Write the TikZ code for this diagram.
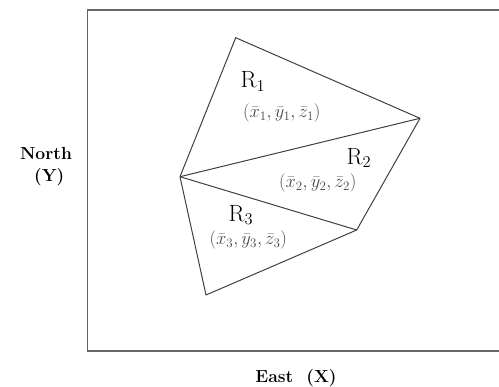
\RequirePackage{fix-cm}
\documentclass[tikz,border=0pt]{standalone}
\usepackage{amsmath, amssymb}
\usepackage{fontspec}
\usetikzlibrary{positioning, calc}

\begin{document}
\begin{tikzpicture}[x=1pt, y=-1pt,
    frame/.style={draw=black!60, line width=1.4pt},
    edge/.style={draw=black!75, line width=1pt, line join=round},
    region/.style={inner sep=0pt, font=\fontsize{23.5}{27}\selectfont},
    centroid/.style={inner sep=0pt, font=\fontsize{18.5}{22}\selectfont, text=black!72},
    axis/.style={inner sep=0pt, align=center, font=\fontsize{17.5}{21}\selectfont\bfseries}
]
    \useasboundingbox (0,0) rectangle (499,387);
    \clip (0,0) rectangle (499,387);

    % outer frame
    \draw[frame] (87.5,10) rectangle (510,351);

    % vertices
    \coordinate (top)    at (235.7,37.7);
    \coordinate (right)  at (420,118.3);
    \coordinate (left)   at (180,176.7);
    \coordinate (lowr)   at (356.7,230);
    \coordinate (bottom) at (206,295);

    \draw[edge] (left) -- (top) -- (right) -- (lowr) -- (bottom) -- cycle;
    \draw[edge] (left) -- (right);
    \draw[edge] (left) -- (lowr);

    % region labels
    \node[region]   (r1) at (253,81.7)  {R$_1$};
    \node[centroid] (c1) at (281.7,113.3) {$(\bar{x}_1,\bar{y}_1,\bar{z}_1)$};
    \node[region]   (r2) at (359,158)   {R$_2$};
    \node[centroid] (c2) at (317.7,183.3) {$(\bar{x}_2,\bar{y}_2,\bar{z}_2)$};
    \node[region]   (r3) at (241,215)   {R$_3$};
    \node[centroid] (c3) at (248.3,240) {$(\bar{x}_3,\bar{y}_3,\bar{z}_3)$};

    % axis names
    \node[axis] (north) at (46,167) {North\\[1pt]\ (Y)};
    \node[axis] (east)  at (296,378) {East\ \ (X)};
\end{tikzpicture}
\end{document}
